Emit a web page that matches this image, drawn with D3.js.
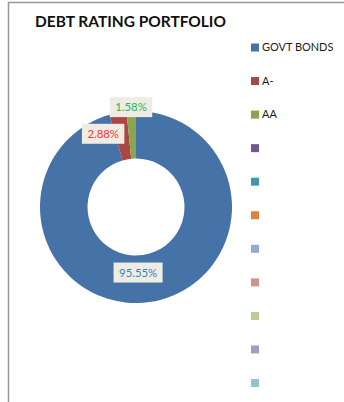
<!DOCTYPE html>
<html>
<head>
<meta charset="utf-8">
<script src="https://cdn.jsdelivr.net/npm/d3@7"></script>
<style>
  html, body { margin: 0; padding: 0; background: #fff; }
  svg { display: block; }
</style>
</head>
<body>
<svg id="chart" width="344" height="402"></svg>
<script>
// Portfolio split by debt rating
const categories = ["GOVT BONDS", "A-", "AA", "", "", "", "", "", "", "", ""];
const shares = [95.55, 2.88, 1.58, 0, 0, 0, 0, 0, 0, 0, 0];
const percentLabels = ["95.55%", "2.88%", "1.58%"];
const titleText = "DEBT RATING PORTFOLIO";
const palette = ["#4572a7", "#aa4643", "#89a54e", "#71588f", "#4198af", "#db843d",
                 "#93a9cf", "#d19392", "#b9cd96", "#a99bbd", "#92c3d4"];
const labelColors = ["#2e86c6", "#ff3030", "#27b35a"];

const FONT = "Lato, 'Open Sans', sans-serif";
const svg = d3.select("#chart");

// pick a font size so that a sample string spans the wanted width
function sizeFor(sample, weight, width) {
  const t = svg.append("text")
    .attr("font-family", FONT).attr("font-weight", weight)
    .attr("font-size", 20).text(sample);
  const len = t.node().getComputedTextLength();
  t.remove();
  return 20 * width / len;
}
const titleSize = sizeFor(titleText, "bold", 191);
const legendSize = sizeFor(categories[0], "normal", 71.5);
const labelSize = sizeFor(percentLabels[2], "normal", 31.5);

// chart-area frame
svg.append("rect")
  .attr("x", 8.5).attr("y", 2.5)
  .attr("width", 340).attr("height", 410)
  .attr("fill", "#fff")
  .attr("stroke", "#9a9a9a").attr("stroke-width", 1.5);

svg.append("text")
  .attr("x", 35).attr("y", 27)
  .attr("font-family", FONT)
  .attr("font-weight", "bold")
  .attr("font-size", titleSize)
  .attr("fill", "#111")
  .text(titleText);

// donut
const cx = 136, cy = 207, rOuter = 96, rInner = 48.5;
const pie = d3.pie().sort(null).value(d => d.v);
const data = categories.map((c, i) => ({ c, v: shares[i], i }));
const arcs = pie(data);
const arc = d3.arc().innerRadius(rInner).outerRadius(rOuter);

const g = svg.append("g").attr("transform", `translate(${cx},${cy})`);
g.selectAll("path")
  .data(arcs.filter(a => a.data.v > 0))
  .enter().append("path")
  .attr("d", arc)
  .attr("fill", d => palette[d.data.i]);

// data labels: inside the ring for the large slice, just outside for the thin ones
const outerR = rOuter + 4;
const nudge = [[-8, -6], [-14, 25], [0, 0]];
arcs.slice(0, 3).forEach((a, i) => {
  let x, y;
  if (a.endAngle - a.startAngle > 1) {
    [x, y] = arc.centroid(a);
  } else {
    const m = (a.startAngle + a.endAngle) / 2;
    x = outerR * Math.sin(m);
    y = -outerR * Math.cos(m);
  }
  x += nudge[i][0]; y += nudge[i][1];
  const lg = g.append("g").attr("transform", `translate(${x},${y})`);
  const t = lg.append("text")
    .attr("text-anchor", "middle")
    .attr("dy", "0.35em")
    .attr("font-family", FONT)
    .attr("font-size", labelSize)
    .attr("fill", labelColors[i])
    .text(percentLabels[i]);
  const bb = t.node().getBBox();
  lg.insert("rect", "text")
    .attr("x", bb.x - 5.5).attr("y", -10)
    .attr("width", bb.width + 11).attr("height", 20)
    .attr("fill", "#eeece3");
});

// legend
const legendY = d3.scalePoint().domain(d3.range(categories.length)).range([47.5, 383]);
const lgd = svg.append("g");
categories.forEach((c, i) => {
  const y = legendY(i);
  lgd.append("rect")
    .attr("x", 251).attr("y", y - 4)
    .attr("width", 8).attr("height", 8)
    .attr("fill", palette[i]);
  lgd.append("text")
    .attr("x", 262).attr("y", y).attr("dy", "0.35em")
    .attr("font-family", FONT)
    .attr("font-size", legendSize)
    .attr("fill", "#1a1a1a")
    .text(c);
});
</script>
</body>
</html>
